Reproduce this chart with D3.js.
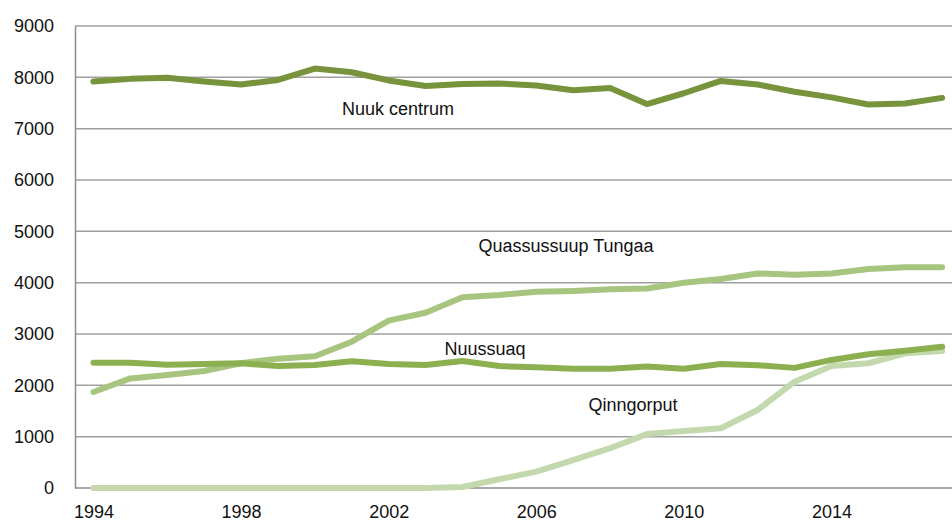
<!DOCTYPE html>
<html>
<head>
<meta charset="utf-8">
<script src="https://cdn.jsdelivr.net/npm/d3@7"></script>
<style>
  body { margin: 0; background: #fff; }
  svg { display: block; font-family: "Liberation Sans", Arial, sans-serif; }
</style>
</head>
<body>
<div id="chart"></div>
<script>
// Population by district, Nuuk
const years = d3.range(1994, 2018);
const yTicks = [0, 1000, 2000, 3000, 4000, 5000, 6000, 7000, 8000, 9000];
const xTickYears = [1994, 1998, 2002, 2006, 2010, 2014];

const nuukCentrum = [7920, 7970, 7990, 7920, 7860, 7950, 8170, 8100, 7940, 7830,
  7870, 7880, 7840, 7750, 7790, 7480, 7690, 7930, 7860, 7720, 7610, 7470, 7490, 7600];
const nuussuaq = [2440, 2440, 2400, 2415, 2430, 2375, 2395, 2470, 2415, 2395,
  2475, 2375, 2350, 2325, 2325, 2365, 2325, 2415, 2390, 2340, 2495, 2605, 2675, 2750];
const quassussuup = [1870, 2135, 2200, 2280, 2430, 2520, 2565, 2850, 3260, 3415,
  3715, 3760, 3825, 3840, 3870, 3885, 4000, 4070, 4180, 4155, 4180, 4265, 4300, 4300];
const qinngorput = [0, 0, 0, 0, 0, 0, 0, 0, 0, 0,
  20, 170, 320, 545, 775, 1050, 1110, 1165, 1520, 2070, 2375, 2430, 2625, 2670];

const series = [
  { name: "Qinngorput", values: qinngorput, color: "#c4d8ae", label: [633, 405] },
  { name: "Quassussuup Tungaa", values: quassussuup, color: "#a8c580", label: [566, 246] },
  { name: "Nuussuaq", values: nuussuaq, color: "#8cb050", label: [485, 349] },
  { name: "Nuuk centrum", values: nuukCentrum, color: "#77933c", label: [398, 109] },
];

const width = 952;
const height = 523;
const margin = { t: 26, l: 75, b: 35 };

const svg = d3.select("#chart")
  .append("svg")
  .attr("width", width)
  .attr("height", height);

// category axis: points sit in the middle of each year slot
const x = d3.scaleLinear()
  .domain([1993.5, 2017.5])
  .range([margin.l, margin.l + 24 * 36.9]);
const y = d3.scaleLinear()
  .domain([0, 9000])
  .range([height - margin.b, margin.t]);

// gridlines
svg.append("g")
  .selectAll("line")
  .data(yTicks.filter((d) => d > 0))
  .join("line")
  .attr("x1", margin.l)
  .attr("x2", width)
  .attr("y1", (d) => y(d))
  .attr("y2", (d) => y(d))
  .attr("stroke", "#a0a0a0")
  .attr("stroke-width", 1.5);

// y axis
const yAxis = svg.append("g")
  .attr("transform", `translate(${margin.l},0)`)
  .call(d3.axisLeft(y).tickValues(yTicks).tickSize(0).tickPadding(21).tickFormat(d3.format("d")));
yAxis.select(".domain").attr("stroke", "#8c8c8c").attr("stroke-width", 1.5);
yAxis.selectAll("text").attr("font-size", 18).attr("fill", "#111").attr("font-family", "Liberation Sans, Arial, sans-serif");

// x axis
const xAxis = svg.append("g")
  .attr("transform", `translate(0,${y(0)})`)
  .call(d3.axisBottom(x).tickValues(xTickYears).tickSize(0).tickPadding(17).tickFormat(d3.format("d")));
xAxis.select(".domain").attr("stroke", "#8c8c8c").attr("stroke-width", 1.5)
  .attr("d", `M${margin.l},0H${width}`);
xAxis.selectAll("text").attr("font-size", 18).attr("fill", "#111").attr("font-family", "Liberation Sans, Arial, sans-serif");

const line = d3.line()
  .x((d, i) => x(years[i]))
  .y((d) => y(d));

svg.append("g")
  .selectAll("path")
  .data(series)
  .join("path")
  .attr("fill", "none")
  .attr("stroke", (d) => d.color)
  .attr("stroke-width", 6)
  .attr("stroke-linecap", "round")
  .attr("stroke-linejoin", "round")
  .attr("d", (d) => line(d.values));

svg.append("g")
  .selectAll("text")
  .data(series)
  .join("text")
  .attr("x", (d) => d.label[0])
  .attr("y", (d) => d.label[1])
  .attr("dy", "0.35em")
  .attr("text-anchor", "middle")
  .attr("font-size", 18)
  .attr("fill", "#111")
  .text((d) => d.name);
</script>
</body>
</html>
